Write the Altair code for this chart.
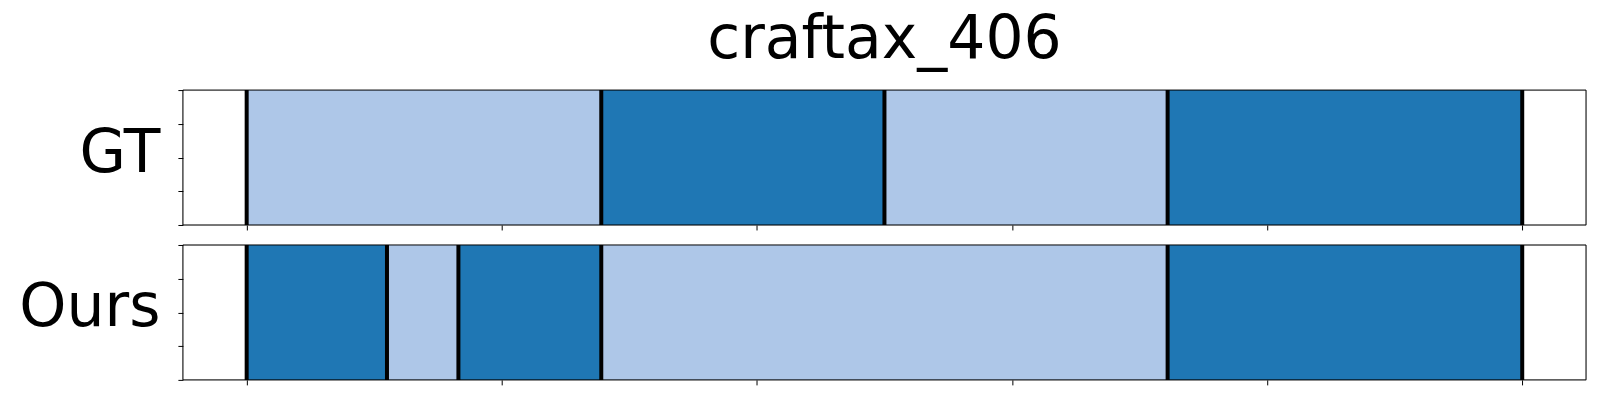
import altair as alt
import pandas as pd

# Segment data (x in frame units; ticks every 100)
gt_starts = [0, 139, 250, 361]
gt_ends = [139, 250, 361, 500]
gt_labels = ["B", "A", "B", "A"]

ours_starts = [0, 55, 83, 139, 361]
ours_ends = [55, 83, 139, 361, 500]
ours_labels = ["A", "B", "A", "B", "A"]

x_ticks = [0, 100, 200, 300, 400, 500]
y_ticks = [0, 0.25, 0.5, 0.75, 1.0]

DARK = "#1f77b4"
LIGHT = "#aec7e8"
FONT = "DejaVu Sans"
W, H = 1404, 135


def panel(starts, ends, labels, name, title=None):
    df = pd.DataFrame({"start": starts, "end": ends, "cls": labels,
                       "y0": 0.0, "y1": 1.0})
    bounds = sorted(set(starts) | set(ends))
    bdf = pd.DataFrame({"b": bounds})
    xscale = alt.Scale(domain=[-25, 525], nice=False, zero=False)
    yscale = alt.Scale(domain=[0, 1], nice=False)
    rects = alt.Chart(df).mark_rect(strokeWidth=0).encode(
        x=alt.X("start:Q", scale=xscale,
                axis=alt.Axis(values=x_ticks, labels=False, grid=False, domain=False,
                              ticks=True, tickSize=5, tickColor="black", tickWidth=1,
                              title=None)),
        x2="end:Q",
        y=alt.Y("y0:Q", scale=yscale,
                axis=alt.Axis(values=y_ticks, labels=False, grid=False, domain=False,
                              ticks=True, tickSize=5, tickColor="black", tickWidth=1,
                              title=name, titleAngle=0, titleFont=FONT, titleFontSize=60,
                              titleFontWeight="normal", titleColor="black",
                              titleAlign="right", titleBaseline="middle",
                              titleX=-23, titleY=63)),
        y2="y1:Q",
        color=alt.Color("cls:N", scale=alt.Scale(domain=["A", "B"], range=[DARK, LIGHT]),
                        legend=None),
    )
    rules = alt.Chart(bdf).mark_rule(color="black", strokeWidth=4).encode(
        x=alt.X("b:Q", scale=xscale),
    )
    frame = alt.Chart(pd.DataFrame({"k": [0]})).mark_rect(
        fill=None, filled=False, stroke="black", strokeWidth=1
    ).encode(x=alt.value(0), x2=alt.value(W), y=alt.value(0), y2=alt.value(H))
    ch = alt.layer(rects, rules, frame).properties(width=W, height=H)
    if title:
        ch = ch.properties(title=alt.TitleParams(title, font=FONT, fontSize=60,
                                                 fontWeight="normal", color="black",
                                                 anchor="middle", frame="group",
                                                 offset=14.5, dy=-3))
    return ch


gt = panel(gt_starts, gt_ends, gt_labels, "GT", title="craftax_406")
ours = panel(ours_starts, ours_ends, ours_labels, "Ours")

chart = alt.vconcat(gt, ours, spacing=11).properties(
    padding={"left": 10, "top": 1, "right": 5, "bottom": 5}
).configure_view(strokeWidth=0).configure(background="white")

chart.save("out.html", embed_options={"renderer": "svg", "actions": False})
